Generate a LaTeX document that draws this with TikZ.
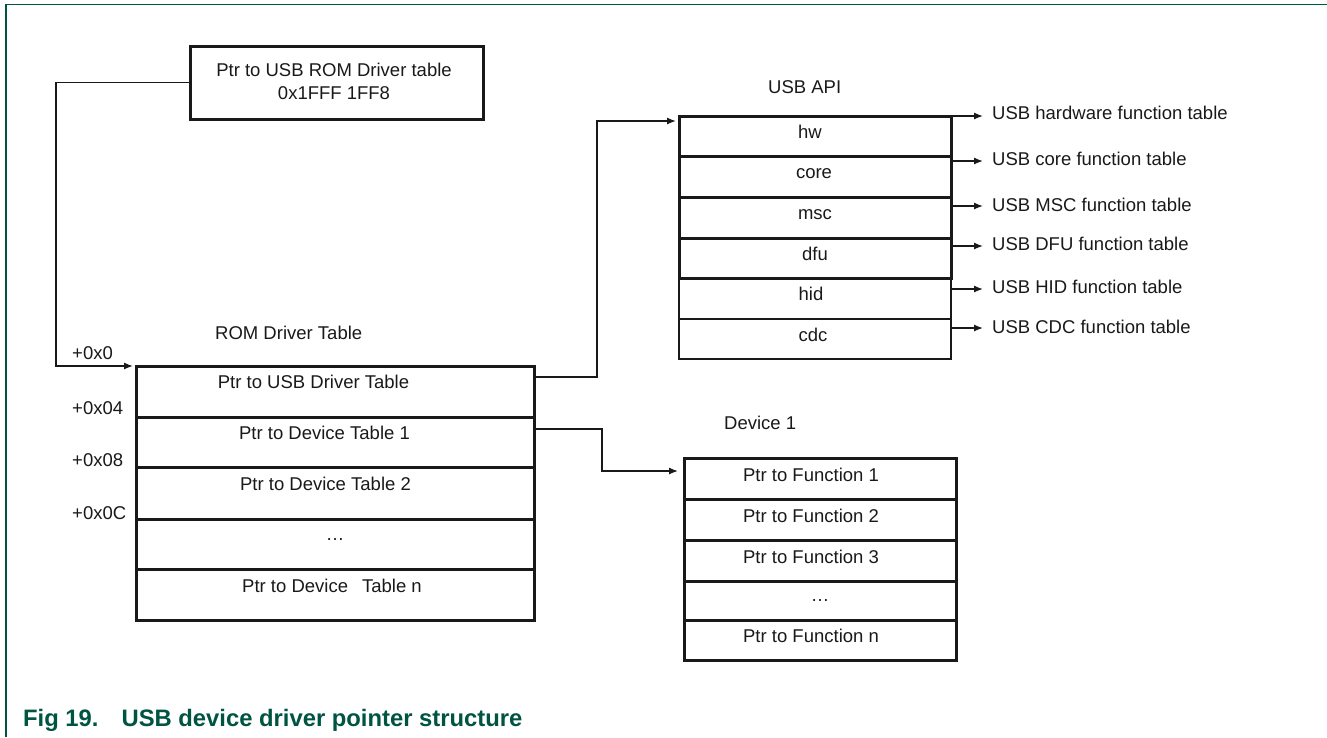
\documentclass[tikz,border=0pt]{standalone}
\usepackage{fontspec}
\setmainfont{Liberation Sans}
\usetikzlibrary{arrows.meta}
\definecolor{nxpgreen}{RGB}{0,84,66}
\definecolor{ink}{RGB}{25,25,25}
\begin{document}
\begin{tikzpicture}[x=1pt,y=-1pt,
  txt/.style={inner sep=0pt,text height=13.25pt,text depth=0pt,font=\fontsize{18.5}{23}\selectfont,text=ink},
  twoline/.style={inner sep=0pt,align=center,font=\fontsize{18.5}{23}\selectfont,text=ink},
  cell/.style={draw=ink,line width=3pt,inner sep=0pt,outer sep=0pt,minimum width=#1},
  thincell/.style={draw=ink,line width=1.8pt,inner sep=0pt,outer sep=0pt,minimum width=#1},
  arr/.style={draw=ink,line width=1.3pt,-{Latex[length=9pt,width=7pt]}},
  figcaption/.style={inner sep=0pt,text height=17pt,text depth=0pt,font=\fontsize{23.8}{28}\bfseries\selectfont,text=nxpgreen}]
\useasboundingbox (0,0) rectangle (1327,737);
% frame
\draw[nxpgreen,line width=1.8pt] (6,737) -- (6,4.5) -- (1327,4.5);
% top box
\node[cell=293pt,minimum height=73pt] (top) at (336.5,82.5) {};
\node[twoline] (toptxt) at (334,81.4) {Ptr to USB ROM Driver table\\0x1FFF 1FF8};
% ROM driver table
\node[txt,anchor=west] (romtitle) at (215,333) {ROM Driver Table};
\node[cell=398pt,minimum height=51pt] (r1) at (335,391.5) {};
\node[cell=398pt,minimum height=50pt] (r2) at (335,442) {};
\node[cell=398pt,minimum height=52pt] (r3) at (335,493) {};
\node[cell=398pt,minimum height=50pt] (r4) at (335,544) {};
\node[cell=398pt,minimum height=51pt] (r5) at (335,594.5) {};
\node[txt] (r1t) at (313.5,382) {Ptr to USB Driver Table};
\node[txt] (r2t) at (324.5,433) {Ptr to Device Table 1};
\node[txt] (r3t) at (325.5,484) {Ptr to Device Table 2};
\node[txt] (r4t) at (335,534) {\dots};
\node[txt] (r5t) at (332,586) {Ptr to Device\hspace{14pt}Table n};
% offsets
\node[txt,anchor=west] (o0) at (72,353) {+0x0};
\node[txt,anchor=west] (o1) at (72,408) {+0x04};
\node[txt,anchor=west] (o2) at (72,460) {+0x08};
\node[txt,anchor=west] (o3) at (72,513) {+0x0C};
% USB API
\node[txt,anchor=west] (apititle) at (768,87) {USB API};
\node[cell=272pt,minimum height=40pt] (a1) at (815,136) {};
\node[cell=272pt,minimum height=41pt] (a2) at (815,176.5) {};
\node[cell=272pt,minimum height=41pt] (a3) at (815,217.5) {};
\node[cell=272pt,minimum height=40pt] (a4) at (815,258) {};
\node[thincell=272pt,minimum height=41pt] (a5) at (815,298.5) {};
\node[thincell=272pt,minimum height=40pt] (a6) at (815,339) {};
\node[txt] (a1t) at (810,131.5) {hw};
\node[txt] (a2t) at (814,172) {core};
\node[txt] (a3t) at (815,213) {msc};
\node[txt] (a4t) at (815,253.5) {dfu};
\node[txt] (a5t) at (811,294) {hid};
\node[txt] (a6t) at (813,334.5) {cdc};
\node[txt,anchor=west] (l1) at (992,113) {USB hardware function table};
\node[txt,anchor=west] (l2) at (992,159) {USB core function table};
\node[txt,anchor=west] (l3) at (992,205) {USB MSC function table};
\node[txt,anchor=west] (l4) at (992,244) {USB DFU function table};
\node[txt,anchor=west] (l5) at (992,287) {USB HID function table};
\node[txt,anchor=west] (l6) at (992,327) {USB CDC function table};
\draw[arr] ([yshift=-3pt]l1.west -| a1.east) -- ([xshift=-9pt,yshift=-3pt]l1.west);
\draw[arr] ([yshift=-2pt]l2.west -| a2.east) -- ([xshift=-9pt,yshift=-2pt]l2.west);
\draw[arr] ([yshift=-1pt]l3.west -| a3.east) -- ([xshift=-9pt,yshift=-1pt]l3.west);
\draw[arr] ([yshift=-2pt]l4.west -| a4.east) -- ([xshift=-9pt,yshift=-2pt]l4.west);
\draw[arr] ([yshift=-2pt]l5.west -| a5.east) -- ([xshift=-9pt,yshift=-2pt]l5.west);
\draw[arr] ([yshift=-1pt]l6.west -| a6.east) -- ([xshift=-9pt,yshift=-1pt]l6.west);
% Device 1
\node[txt,anchor=west] (devtitle) at (724,423) {Device 1};
\node[cell=272pt,minimum height=41pt] (d1) at (820,478.5) {};
\node[cell=272pt,minimum height=41pt] (d2) at (820,519.5) {};
\node[cell=272pt,minimum height=41pt] (d3) at (820,560.5) {};
\node[cell=272pt,minimum height=39pt] (d4) at (820,600.5) {};
\node[cell=272pt,minimum height=40pt] (d5) at (820,640) {};
\node[txt] (d1t) at (811,475) {Ptr to Function 1};
\node[txt] (d2t) at (811,516) {Ptr to Function 2};
\node[txt] (d3t) at (811,557) {Ptr to Function 3};
\node[txt] (d4t) at (820,594.5) {\dots};
\node[txt] (d5t) at (811,636) {Ptr to Function n};
% connectors
\draw[arr] (top.west) -- ++(-134,0) |- ([xshift=-3pt]r1.north west);
\draw[arr] ([yshift=14.5pt]r1.east) -- ++(63,0) |- ([xshift=-3pt,yshift=-5pt]a1.north west);
\draw[arr] ([yshift=13pt]r2.east) -- ++(68,0) |- ([xshift=-6pt,yshift=7.5pt]d1.west);
% caption
\node[figcaption,anchor=west] (caption) at (23,718) {Fig 19.\hspace{23pt}USB device driver pointer structure};
\end{tikzpicture}
\end{document}
